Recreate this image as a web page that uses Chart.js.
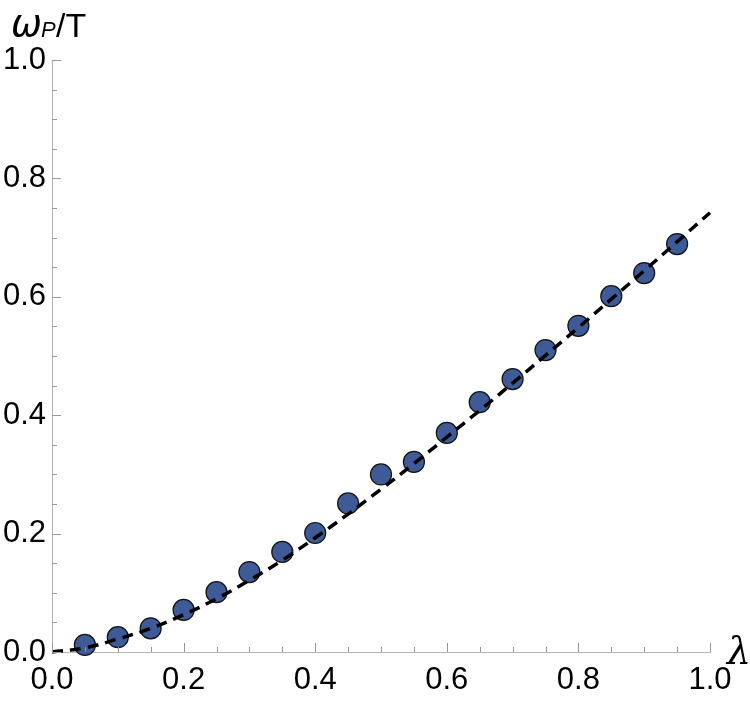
<!DOCTYPE html>
<html>
<head>
<meta charset="utf-8">
<script src="https://cdn.jsdelivr.net/npm/chart.js@4"></script>
<style>
  html, body { margin: 0; padding: 0; background: #fff; }
  #wrap { width: 750px; height: 705px; }
</style>
</head>
<body>
<div id="wrap"><canvas id="chart"></canvas></div>
<script>
// dati
const lambdaPts = [0.05, 0.10, 0.15, 0.20, 0.25, 0.30, 0.35, 0.40, 0.45, 0.50,
                   0.55, 0.60, 0.65, 0.70, 0.75, 0.80, 0.85, 0.90, 0.95];
const omegaPts = [0.012, 0.025, 0.040, 0.071, 0.101, 0.135, 0.169, 0.201, 0.251, 0.300,
                  0.321, 0.370, 0.422, 0.461, 0.510, 0.551, 0.601, 0.640, 0.689];

// curva tratteggiata (fit)
const lambdaFit = [0, 0.05, 0.10, 0.15, 0.20, 0.25, 0.30, 0.35, 0.40, 0.45, 0.50,
                   0.55, 0.60, 0.65, 0.70, 0.75, 0.80, 0.85, 0.90, 0.95, 1.0];
const omegaFit = [0, 0.007, 0.022, 0.040, 0.063, 0.090, 0.121, 0.155, 0.193, 0.233, 0.275,
                  0.318, 0.363, 0.408, 0.454, 0.501, 0.548, 0.596, 0.644, 0.693, 0.742];

const majorTicks = [0, 0.2, 0.4, 0.6, 0.8, 1.0];
const minorStep = 0.05;

const axisColor = '#b4b4b4';
const tickFont = { family: 'Liberation Sans, Arial, sans-serif', size: 31 };

// tacche verso l'interno, come nell'originale
const inwardTicks = {
    id: 'inwardTicks',
    afterDatasetsDraw(chart) {
        const { ctx, scales: { x, y }, chartArea } = chart;
        ctx.save();
        ctx.strokeStyle = '#999';
        ctx.lineWidth = 1;
        for (let i = 0; i <= 20; i++) {
            const v = i * minorStep;
            const major = i % 4 === 0;
            const len = major ? 9 : 5;
            const py = Math.round(y.getPixelForValue(v)) + 0.5;
            ctx.beginPath();
            ctx.moveTo(chartArea.left, py);
            ctx.lineTo(chartArea.left + len, py);
            ctx.stroke();
            const px = Math.round(x.getPixelForValue(v)) + 0.5;
            ctx.beginPath();
            ctx.moveTo(px, chartArea.bottom);
            ctx.lineTo(px, chartArea.bottom - len);
            ctx.stroke();
        }
        ctx.restore();
    }
};

// etichette degli assi: ω_P/T in alto e λ a destra
const axisLabels = {
    id: 'axisLabels',
    afterDraw(chart) {
        const { ctx } = chart;
        ctx.save();
        ctx.fillStyle = '#000';
        ctx.textBaseline = 'alphabetic';
        ctx.textAlign = 'left';
        ctx.font = 'italic 37px "DejaVu Sans", sans-serif';
        ctx.fillText('ω', 11, 36);
        ctx.font = 'italic 22px "Liberation Sans", Arial, sans-serif';
        ctx.fillText('P', 41, 37);
        ctx.font = '34px "Liberation Sans", Arial, sans-serif';
        ctx.fillText('/T', 56, 37);
        ctx.font = 'italic 38px "DejaVu Serif", serif';
        ctx.fillText('λ', 727, 664);
        ctx.restore();
    }
};

new Chart(document.getElementById('chart'), {
    type: 'scatter',
    data: {
        datasets: [
            {
                label: 'fit',
                type: 'line',
                data: lambdaFit.map((l, i) => ({ x: l, y: omegaFit[i] })),
                borderColor: '#000',
                borderWidth: 3.5,
                borderDash: [11, 7],
                pointRadius: 0,
                fill: false,
                tension: 0.4,
                order: 0,
                clip: false
            },
            {
                label: 'dati',
                data: lambdaPts.map((l, i) => ({ x: l, y: omegaPts[i] })),
                backgroundColor: '#3f5b97',
                borderColor: '#111',
                borderWidth: 1.2,
                pointRadius: 10.5,
                pointHoverRadius: 10.5,
                order: 1,
                clip: false
            }
        ]
    },
    options: {
        responsive: true,
        maintainAspectRatio: false,
        animation: false,
        layout: { padding: { left: 0, right: 40, top: 60, bottom: 0 } },
        plugins: {
            legend: { display: false },
            tooltip: { enabled: false }
        },
        scales: {
            x: {
                type: 'linear',
                min: 0,
                max: 1,
                afterBuildTicks: (scale) => { scale.ticks = majorTicks.map(v => ({ value: v })); },
                afterFit: (scale) => { scale.height = 53; },
                grid: { display: false, drawTicks: false },
                border: { display: true, color: axisColor, width: 1 },
                ticks: {
                    color: '#000',
                    font: tickFont,
                    padding: 10,
                    maxRotation: 0,
                    callback: (v) => Number(v).toFixed(1)
                }
            },
            y: {
                type: 'linear',
                min: 0,
                max: 1,
                afterBuildTicks: (scale) => { scale.ticks = majorTicks.map(v => ({ value: v })); },
                afterFit: (scale) => { scale.width = 52; },
                grid: { display: false, drawTicks: false },
                border: { display: true, color: axisColor, width: 1 },
                ticks: {
                    color: '#000',
                    font: tickFont,
                    padding: 6,
                    callback: (v) => Number(v).toFixed(1)
                }
            }
        }
    },
    plugins: [inwardTicks, axisLabels]
});
</script>
</body>
</html>
